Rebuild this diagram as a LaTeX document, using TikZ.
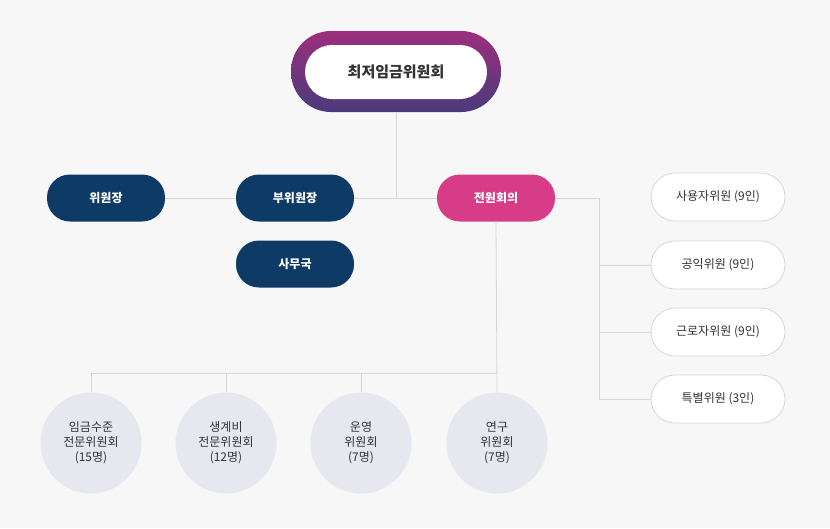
\documentclass[tikz,border=0pt]{standalone}
\usepackage{fontspec}
\setmainfont{Noto Sans CJK KR}
\usetikzlibrary{shadings}
\definecolor{bg}{HTML}{F7F7F8}
\definecolor{navy}{HTML}{0E3A66}
\definecolor{pinkc}{HTML}{D63C87}
\definecolor{lineg}{HTML}{D6D6DA}
\definecolor{circ}{HTML}{E7E7EF}
\definecolor{txt}{HTML}{333333}
\definecolor{gtop}{HTML}{9C2F7C}
\definecolor{gbot}{HTML}{4A3A7C}
\tikzset{
  conn/.style={draw=lineg, line width=0.8pt},
  darkbox/.style={rounded corners=23pt, fill=navy, text=white, minimum width=118pt, minimum height=47pt, font=\bfseries\fontsize{12}{14}\selectfont},
  pinkbox/.style={darkbox, fill=pinkc},
  whitebox/.style={rounded corners=24pt, fill=white, draw=lineg, line width=0.8pt, text=txt, minimum width=134pt, minimum height=48pt, font=\fontsize{12}{14}\selectfont},
  circbox/.style={circle, fill=circ, minimum size=101pt, text=txt, align=center, font=\fontsize{12}{15}\selectfont},
}
\begin{document}
\begin{tikzpicture}[x=1pt,y=-1pt]
\fill[bg] (0,0) rectangle (830,528);
\useasboundingbox (0,0) rectangle (830,528);
% top node
\shade[top color=gtop, bottom color=gbot, rounded corners=40pt] (291,31) rectangle (501,112);
\node[fill=white, rounded corners=27pt, minimum width=182pt, minimum height=54pt, text=txt, font=\bfseries\fontsize{15}{18}\selectfont] (top) at (396,72) {최저임금위원회};
\coordinate (topb) at (396,112);
\coordinate (j1) at (396,198);
\node[darkbox] (chair) at (106,198) {위원장};
\node[darkbox] (vice) at (295,198) {부위원장};
\node[darkbox] (sec) at (295,264) {사무국};
\node[pinkbox] (plen) at (496,198) {전원회의};
\draw[conn] (topb) -- (j1);
\draw[conn] (chair.east) -- (vice.west);
\draw[conn] (vice.east) -- (plen.west);
% right
\node[whitebox] (r1) at (718,197) {사용자위원 (9인)};
\node[whitebox] (r2) at (718,265) {공익위원 (9인)};
\node[whitebox] (r3) at (718,332) {근로자위원 (9인)};
\node[whitebox] (r4) at (718,399) {특별위원 (3인)};
\coordinate (rv) at (599,198);
\coordinate (rb) at (599,399);
\draw[conn] (plen.east) -- (rv) -- (rb);
\draw[conn] (599,265) -- (r2.west);
\draw[conn] (599,332) -- (r3.west);
\draw[conn] (rb) -- (r4.west);
% bottom
\node[circbox] (c1) at (91,443) {임금수준\\전문위원회\\(15명)};
\node[circbox] (c2) at (226,443) {생계비\\전문위원회\\(12명)};
\node[circbox] (c3) at (361,443) {운영\\위원회\\(7명)};
\node[circbox] (c4) at (497,443) {연구\\위원회\\(7명)};
\coordinate (bj) at (497,373);
\draw[conn] (plen.south) -- (c4.north);
\draw[conn] (bj) -- (91,373) -- (c1.north);
\draw[conn] (226,373) -- (c2.north);
\draw[conn] (361,373) -- (c3.north);
\end{tikzpicture}
\end{document}
